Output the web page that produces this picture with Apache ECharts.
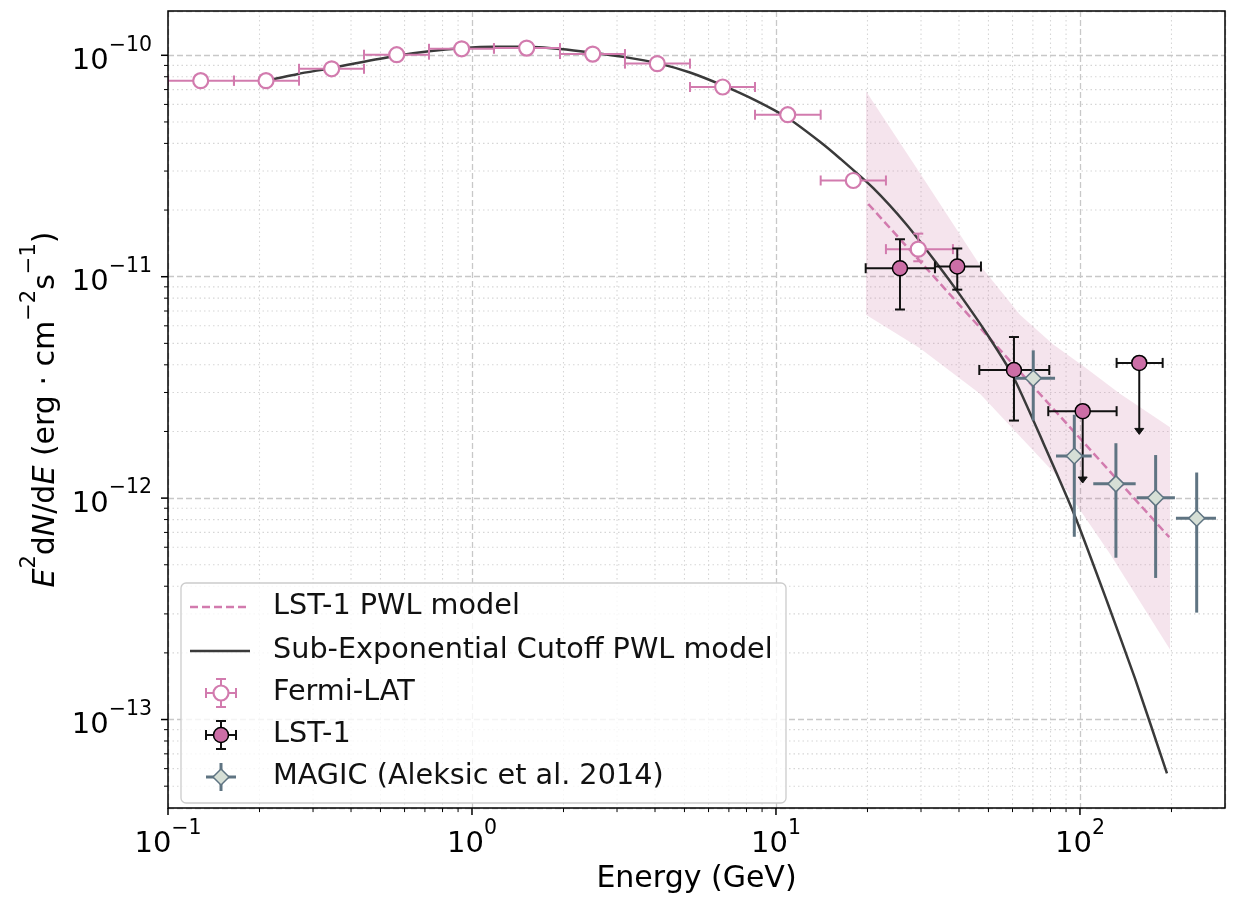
<!DOCTYPE html>
<html><head><meta charset="utf-8">
<script src="https://cdn.jsdelivr.net/npm/echarts@6/dist/echarts.min.js"></script>
<style>html,body{margin:0;padding:0;background:#fff}#c{width:1233px;height:899px}</style>
</head><body><div id="c"></div>
<script>
// ---------- data ----------
// Fermi-LAT
const fermiE   = [0.1281, 0.2101, 0.3455, 0.5654, 0.9249, 1.513, 2.495, 4.069, 6.678, 10.93, 17.96, 29.38];
const fermiElo = [0.1, 0.1648, 0.2698, 0.4413, 0.7222, 1.181, 1.948, 3.186, 5.213, 8.53, 14.03, 23.0];
const fermiEhi = [0.1648, 0.2698, 0.4413, 0.7222, 1.181, 1.948, 3.186, 5.213, 8.53, 14.03, 23.0, 38.2];
const fermiF   = [7.68e-11, 7.68e-11, 8.69e-11, 1.006e-10, 1.070e-10, 1.078e-10, 1.013e-10, 9.17e-11, 7.19e-11, 5.39e-11, 2.72e-11, 1.332e-11];
const fermiFlo = [7.3e-11, 7.35e-11, 8.4e-11, 9.8e-11, 1.05e-10, 1.058e-10, 9.9e-11, 8.95e-11, 7.0e-11, 5.2e-11, 2.58e-11, 1.174e-11];
const fermiFhi = [8.05e-11, 8.0e-11, 8.98e-11, 1.032e-10, 1.09e-10, 1.098e-10, 1.036e-10, 9.4e-11, 7.38e-11, 5.58e-11, 2.86e-11, 1.565e-11];

// LST-1 (last two are upper limits; Flo = arrow tip)
const lstE   = [25.58, 39.48, 60.66, 102.1, 156.7];
const lstElo = [19.73, 33.34, 46.65, 78.66, 132.0];
const lstEhi = [33.34, 47.24, 79.26, 132.0, 187.1];
const lstF   = [1.092e-11, 1.112e-11, 3.79e-12, 2.47e-12, 4.08e-12];
const lstFlo = [7.11e-12, 8.74e-12, 2.24e-12, 1.17e-12, 1.94e-12];
const lstFhi = [1.476e-11, 1.341e-11, 5.34e-12, 2.47e-12, 4.08e-12];
const lstUL  = [0, 0, 0, 1, 1];

// MAGIC (Aleksic et al. 2014)
const magicE   = [70.2, 95.8, 131.3, 177.4, 242.1];
const magicElo = [61.1, 83.4, 110.6, 153.7, 206.9];
const magicEhi = [82.8, 109.3, 152.5, 205.3, 280.2];
const magicF   = [3.48e-12, 1.55e-12, 1.16e-12, 1.003e-12, 8.11e-13];
const magicFlo = [2.24e-12, 6.69e-13, 5.38e-13, 4.36e-13, 3.04e-13];
const magicFhi = [4.65e-12, 2.38e-12, 1.77e-12, 1.565e-12, 1.305e-12];

// Sub-Exponential Cutoff PWL model (sampled from the curve)
const secE = [0.2101, 0.2677, 0.3455, 0.4413, 0.5654, 0.7222, 0.925, 1.181, 1.513, 1.948, 2.495, 3.186, 4.07, 5.213, 6.678, 8.53, 10.93, 13.95, 16.24, 20.90, 26.91, 33.78, 40.3, 49.33, 60.2, 75.56, 96.3, 122.7, 151.7, 193.3];
const secF = [7.68e-11, 8.24e-11, 8.76e-11, 9.36e-11, 9.96e-11, 1.043e-10, 1.076e-10, 1.092e-10, 1.092e-10, 1.067e-10, 1.027e-10, 9.81e-11, 9.22e-11, 8.36e-11, 7.31e-11, 6.27e-11, 5.21e-11, 4.07e-11, 3.42e-11, 2.51e-11, 1.717e-11, 1.150e-11, 8.28e-12, 5.54e-12, 3.56e-12, 1.789e-12, 8.28e-13, 3.42e-13, 1.533e-13, 5.71e-14];

// LST-1 PWL model
const pwlE = [20.12, 196.7];
const pwlF = [2.13e-11, 6.66e-13];

// PWL butterfly band
const bandUpE = [19.78, 29.77, 46.9, 63.47, 81.5, 104.6, 135.4, 197.8];
const bandUpF = [6.88e-11, 2.93e-11, 1.126e-11, 6.74e-12, 4.95e-12, 3.87e-12, 2.96e-12, 2.09e-12];
const bandLoE = [19.78, 29.77, 46.9, 83.4, 125.5, 197.8];
const bandLoF = [6.74e-12, 4.75e-12, 2.96e-12, 1.274e-12, 5.60e-13, 2.07e-13];

// axes
const X_MIN = 0.1, X_MAX = 300;
const Y_MIN = 3.981e-14, Y_MAX = 1.585e-10;
const xMajorTicks = [0.1, 1, 10, 100];
const xMinorTicks = [0.2,0.3,0.4,0.5,0.6,0.7,0.8,0.9, 2,3,4,5,6,7,8,9, 20,30,40,50,60,70,80,90, 200];
const yMajorTicks = [1e-13, 1e-12, 1e-11, 1e-10];
const yMinorTicks = [5e-14,6e-14,7e-14,8e-14,9e-14, 2e-13,3e-13,4e-13,5e-13,6e-13,7e-13,8e-13,9e-13,
                     2e-12,3e-12,4e-12,5e-12,6e-12,7e-12,8e-12,9e-12, 2e-11,3e-11,4e-11,5e-11,6e-11,7e-11,8e-11,9e-11];

// ---------- styles ----------
const FONT = 'DejaVu Sans';
const PINK = '#d27bae';
const LSTFILL = '#cc6ea6';
const SLATE = '#5f7482';
const MFILL = '#d6dfd6';
const DARK = '#3a3a3a';

function zip(...arrs){ return arrs[0].map((_, i) => arrs.map(a => a[i])); }

function fmtPow(v){
  const l = Math.log10(v);
  const r = Math.round(l);
  if (Math.abs(l - r) > 1e-6) return '';
  const e = (r < 0 ? '\u2212' : '') + Math.abs(r);
  return '{b|10}{s|' + e + '}';
}
const powRich = {
  b: {fontSize: 29, fontFamily: FONT, color: '#000', lineHeight: 41, verticalAlign: 'bottom'},
  s: {fontSize: 20.5, fontFamily: FONT, color: '#000', lineHeight: 20, verticalAlign: 'top'}
};

function gridRender(isX){
  return function(params, api){
    const cs = params.coordSys;
    const major = api.value(2);
    const ch = [];
    if (isX){
      const x = api.coord([api.value(0), api.value(1)])[0];
      if (!major) ch.push({type:'line', shape:{x1:x, y1:cs.y, x2:x, y2:cs.y+cs.height},
        style:{stroke:'#d6d6d6', lineWidth:1.1, lineDash:[1.5,3]}});
      ch.push({type:'line', shape:{x1:x, y1:cs.y+cs.height, x2:x, y2:cs.y+cs.height+(major?7:4)},
        style:{stroke:'#000', lineWidth: major?1.5:1}});
    } else {
      const y = api.coord([api.value(0), api.value(1)])[1];
      if (!major) ch.push({type:'line', shape:{x1:cs.x, y1:y, x2:cs.x+cs.width, y2:y},
        style:{stroke:'#d6d6d6', lineWidth:1.1, lineDash:[1.5,3]}});
      ch.push({type:'line', shape:{x1:cs.x, y1:y, x2:cs.x-(major?7:4), y2:y},
        style:{stroke:'#000', lineWidth: major?1.5:1}});
    }
    return {type:'group', children: ch};
  };
}

function frameRender(params, api){
  const cs = params.coordSys;
  return {type:'rect', shape:{x:cs.x, y:cs.y, width:cs.width, height:cs.height},
          style:{fill:'none', stroke:'#000', lineWidth:1.5}};
}

function marker(kind, cx, cy){
  if (kind === 'fermi') return {type:'circle', shape:{cx, cy, r:7.5}, style:{fill:'#fff', stroke:PINK, lineWidth:2.2}};
  if (kind === 'lst') return {type:'circle', shape:{cx, cy, r:7.5}, style:{fill:LSTFILL, stroke:'#000', lineWidth:1.5}};
  return {type:'polygon', shape:{points:[[cx,cy-8],[cx+8,cy],[cx,cy+8],[cx-8,cy]]}, style:{fill:MFILL, stroke:SLATE, lineWidth:1.5}};
}

function errRender(kind, bar, bw, cap){
  return function(params, api){
    const E=api.value(0), F=api.value(1), Elo=api.value(2), Ehi=api.value(3), Flo=api.value(4), Fhi=api.value(5), ul=api.value(6);
    const c = api.coord([E, F]);
    const xl = api.coord([Elo, F])[0], xr = api.coord([Ehi, F])[0];
    const yb = api.coord([E, Flo])[1], yt = api.coord([E, Fhi])[1];
    const ls = {stroke: bar, lineWidth: bw};
    const ch = [];
    ch.push({type:'line', shape:{x1:xl, y1:c[1], x2:xr, y2:c[1]}, style:ls});
    if (ul){
      ch.push({type:'line', shape:{x1:c[0], y1:c[1], x2:c[0], y2:yb-4}, style:ls});
      ch.push({type:'polygon', shape:{points:[[c[0]-4.5, yb-6],[c[0]+4.5, yb-6],[c[0], yb]]}, style:{fill:bar, stroke:bar, lineWidth:1}});
    } else {
      ch.push({type:'line', shape:{x1:c[0], y1:yt, x2:c[0], y2:yb}, style:ls});
    }
    if (cap){
      ch.push({type:'line', shape:{x1:xl, y1:c[1]-cap, x2:xl, y2:c[1]+cap}, style:ls});
      ch.push({type:'line', shape:{x1:xr, y1:c[1]-cap, x2:xr, y2:c[1]+cap}, style:ls});
      if (!ul){
        ch.push({type:'line', shape:{x1:c[0]-cap, y1:yt, x2:c[0]+cap, y2:yt}, style:ls});
        ch.push({type:'line', shape:{x1:c[0]-cap, y1:yb, x2:c[0]+cap, y2:yb}, style:ls});
      }
    }
    ch.push(marker(kind, c[0], c[1]));
    return {type:'group', children: ch};
  };
}

function bandRender(params, api){
  const pts = [];
  for (let i = 0; i < bandUpE.length; i++) pts.push(api.coord([bandUpE[i], bandUpF[i]]));
  for (let i = bandLoE.length - 1; i >= 0; i--) pts.push(api.coord([bandLoE[i], bandLoF[i]]));
  return {type:'polygon', shape:{points: pts}, style:{fill:'rgba(204,121,167,0.2)', stroke:'none'}};
}

// ---------- legend (graphic) ----------
const LX = 221, LT = 273;
const rows = [607, 651, 693, 735, 777];
function legendHandle(kind, cy, bar, bw, cap){
  const ch = [];
  const ls = {stroke: bar, lineWidth: bw};
  ch.push({type:'line', shape:{x1:LX-15, y1:cy, x2:LX+15, y2:cy}, style:ls});
  ch.push({type:'line', shape:{x1:LX, y1:cy-14, x2:LX, y2:cy+14}, style:ls});
  if (cap){
    ch.push({type:'line', shape:{x1:LX-15, y1:cy-cap, x2:LX-15, y2:cy+cap}, style:ls});
    ch.push({type:'line', shape:{x1:LX+15, y1:cy-cap, x2:LX+15, y2:cy+cap}, style:ls});
    ch.push({type:'line', shape:{x1:LX-cap, y1:cy-14, x2:LX+cap, y2:cy-14}, style:ls});
    ch.push({type:'line', shape:{x1:LX-cap, y1:cy+14, x2:LX+cap, y2:cy+14}, style:ls});
  }
  ch.push(marker(kind, LX, cy));
  ch.forEach(e => { e.z = 101; });
  return ch;
}
const legendTexts = ['LST-1 PWL model', 'Sub-Exponential Cutoff PWL model', 'Fermi-LAT', 'LST-1', 'MAGIC (Aleksic et al. 2014)'];
const graphic = [
  {type:'rect', shape:{x:181, y:583, width:605, height:220, r:5}, style:{fill:'rgba(255,255,255,0.8)', stroke:'#cccccc', lineWidth:1.3}, z:100},
  {type:'line', shape:{x1:190, y1:rows[0], x2:250, y2:rows[0]}, style:{stroke:PINK, lineWidth:2.5, lineDash:[8,4]}, z:101},
  {type:'line', shape:{x1:190, y1:rows[1], x2:250, y2:rows[1]}, style:{stroke:DARK, lineWidth:2.5}, z:101}
].concat(legendHandle('fermi', rows[2], PINK, 2, 5))
 .concat(legendHandle('lst', rows[3], '#111', 2, 5))
 .concat(legendHandle('magic', rows[4], SLATE, 3, 0))
 .concat(legendTexts.map((t, i) => ({
  type:'text', x:LT, y:rows[i], z:101,
  style:{text:t, fill:'#111', font:'28.7px "DejaVu Sans"', textVerticalAlign:'middle', verticalAlign:'middle'}
})));

// ---------- chart ----------
const chart = echarts.init(document.getElementById('c'), null, {renderer:'canvas'});
chart.setOption({
  animation: false,
  backgroundColor: '#fff',
  grid: {left:168, right:8, top:11, bottom:83, show:false},
  xAxis: {
    type:'log', logBase:10, min:X_MIN, max:X_MAX,
    name:'Energy (GeV)', nameLocation:'middle', nameGap:54,
    nameTextStyle:{fontFamily:FONT, fontSize:30, color:'#000'},
    axisLine:{show:false}, axisTick:{show:false},
    axisLabel:{formatter:fmtPow, rich:powRich, margin:10, showMaxLabel:false, showMinLabel:true},
    splitLine:{show:true, lineStyle:{color:'#c8c8c8', width:1.3, type:[6,3]}},
    minorTick:{show:false}, minorSplitLine:{show:false}
  },
  yAxis: {
    type:'log', logBase:10, min:Y_MIN, max:Y_MAX,
    name:'{i|E}{s|2}{n|d}{i|N}{n|/d}{i|E}{n| (erg \u00b7 cm}{s|\u22122}{n|s}{s|\u22121}{n|)}',
    nameLocation:'middle', nameGap:104,
    nameTextStyle:{fontFamily:FONT, fontSize:30, color:'#000', rich:{
      i:{fontFamily:FONT, fontSize:30, fontStyle:'italic', color:'#000', lineHeight:42, verticalAlign:'bottom'},
      n:{fontFamily:FONT, fontSize:30, color:'#000', lineHeight:42, verticalAlign:'bottom'},
      s:{fontFamily:FONT, fontSize:21, color:'#000', lineHeight:21, verticalAlign:'top'}
    }},
    axisLine:{show:false}, axisTick:{show:false},
    axisLabel:{formatter:fmtPow, rich:powRich, margin:16, showMinLabel:false, showMaxLabel:false},
    splitLine:{show:true, lineStyle:{color:'#c8c8c8', width:1.3, type:[6,3]}},
    minorTick:{show:false}, minorSplitLine:{show:false}
  },
  graphic: graphic,
  series: [
    {type:'custom', name:'xgrid', silent:true, z:1, clip:false, renderItem:gridRender(true), encode:{x:0, y:1},
     data: xMinorTicks.map(v => [v, Y_MIN, 0]).concat(xMajorTicks.map(v => [v, Y_MIN, 1]))},
    {type:'custom', name:'ygrid', silent:true, z:1, clip:false, renderItem:gridRender(false), encode:{x:0, y:1},
     data: yMinorTicks.map(v => [X_MIN, v, 0]).concat(yMajorTicks.map(v => [X_MIN, v, 1]))},
    {type:'custom', name:'band', silent:true, z:2, clip:true, renderItem:bandRender, encode:{x:0, y:1},
     data:[[bandUpE[0], bandUpF[0]]]},
    {type:'line', name:'LST-1 PWL model', silent:true, z:3, symbol:'none', data: zip(pwlE, pwlF),
     lineStyle:{color:PINK, width:2.5, type:[8,4]}},
    {type:'line', name:'Sub-Exponential Cutoff PWL model', silent:true, z:3, symbol:'none', smooth:0.2, data: zip(secE, secF),
     lineStyle:{color:DARK, width:2.5}},
    {type:'custom', name:'Fermi-LAT', silent:true, z:4, clip:true, renderItem:errRender('fermi', PINK, 2, 5), encode:{x:0, y:1},
     data: zip(fermiE, fermiF, fermiElo, fermiEhi, fermiFlo, fermiFhi, fermiE.map(() => 0))},
    {type:'custom', name:'LST-1', silent:true, z:5, clip:true, renderItem:errRender('lst', '#111', 2, 5), encode:{x:0, y:1},
     data: zip(lstE, lstF, lstElo, lstEhi, lstFlo, lstFhi, lstUL)},
    {type:'custom', name:'MAGIC (Aleksic et al. 2014)', silent:true, z:6, clip:true, renderItem:errRender('magic', SLATE, 3, 0), encode:{x:0, y:1},
     data: zip(magicE, magicF, magicElo, magicEhi, magicFlo, magicFhi, magicE.map(() => 0))},
    {type:'custom', name:'frame', silent:true, z:7, clip:false, renderItem:frameRender, encode:{x:0, y:1},
     data:[[X_MIN, Y_MIN]]}
  ]
});
</script></body></html>
